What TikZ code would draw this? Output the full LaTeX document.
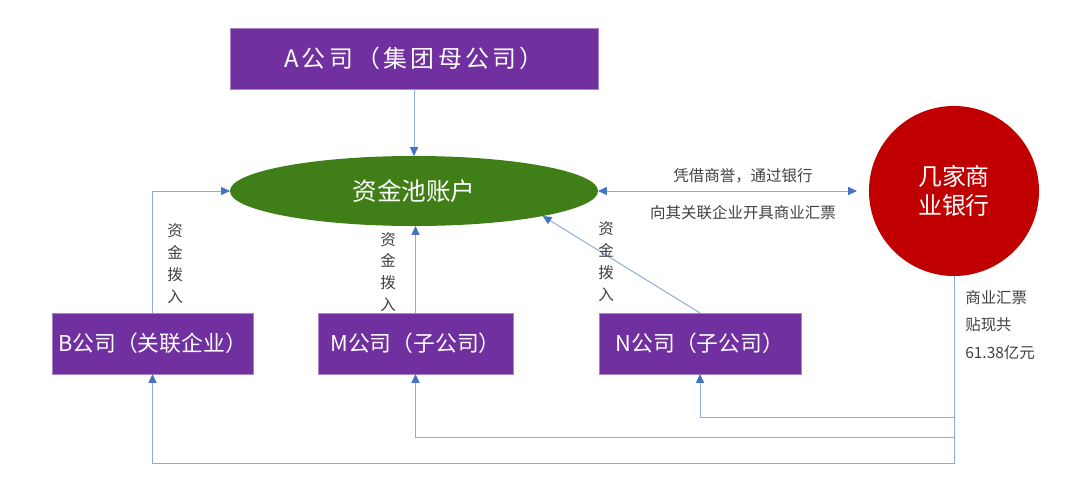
\documentclass[tikz,border=0pt]{standalone}
\usepackage{fontspec}
\setmainfont{Noto Sans CJK SC}
\newfontfamily\wideCJK[LetterSpace=14]{Noto Sans CJK SC}
\usetikzlibrary{arrows.meta,positioning,shapes.geometric}
\definecolor{boxPurple}{RGB}{112,48,160}
\definecolor{poolGreen}{RGB}{64,126,24}
\definecolor{bankRed}{RGB}{192,0,0}
\definecolor{lineBlue}{RGB}{143,170,220}
\definecolor{tipBlue}{RGB}{68,114,196}
\definecolor{labelGray}{RGB}{64,64,64}
\tikzset{blueTip/.tip={Triangle[length=0.22cm,width=0.2cm,color=tipBlue]}}

\begin{document}
\begin{tikzpicture}[x=0.025cm,y=-0.025cm,
	company/.style={fill=boxPurple,draw=boxPurple!60,text=white,minimum height=1.525cm,inner sep=0pt,outer sep=0pt,font=\fontsize{15.5}{18}\selectfont},
	flow/.style={draw=lineBlue,line width=0.7pt,-blueTip},
	note/.style={text=labelGray,inner sep=0pt,font=\fontsize{11}{13}\selectfont},
	vnote/.style={note,align=center,font=\fontsize{11}{15.6}\selectfont}]
	\useasboundingbox (0,0) rectangle (1080,500);

	%Parent company
	\node[company,minimum width=9.2cm,font=\wideCJK\fontsize{17}{20}\selectfont] (groupA) at (414,58.5) {A公司（集团母公司）};
	%Cash pool
	\node[ellipse,fill=poolGreen,text=white,minimum width=9.2cm,minimum height=1.75cm,inner sep=0pt,outer sep=0pt,font=\fontsize{17.5}{20}\selectfont] (pool) at (414,191) {资金池账户};
	%Banks
	\node[circle,fill=bankRed,text=white,minimum size=4.25cm,inner sep=0pt,outer sep=0pt,align=center,font=\fontsize{17}{20.6}\selectfont] (bank) at (954,191) {几家商\\业银行};

	%Member companies
	\node[company,minimum width=5.025cm] (compB) at (152.5,343.5) {B公司（关联企业）};
	\node[company,minimum width=4.875cm] (compM) at (415.5,343.5) {M公司（子公司）};
	\node[company,minimum width=5.05cm] (compN) at (700,343.5) {N公司（子公司）};

	%Funds into the pool
	\draw[flow] (groupA.south) -- (pool.north);
	\draw[flow] (compB.north) |- (pool.west);
	\draw[flow] (compM.north) -- (compM.north |- pool.south);
	\draw[flow] (compN.north -| 700,0) -- (pool.-11);

	\foreach \labelName/\xPos/\yPos in {inB/175/264, inM/388/272, inN/606/262}{
		\node[vnote] (\labelName) at (\xPos,\yPos) {资\\金\\拨\\入};
	}

	%Pool and banks
	\draw[flow,blueTip-blueTip,shorten >=0.3cm] (pool.east) -- (bank.west);
	\node[note] (credit) at (743,176) {凭借商誉，通过银行};
	\node[note] (bills) at (743,213) {向其关联企业开具商业汇票};

	%Discounted bills back to the companies
	\foreach \target/\yLevel in {compN/417, compM/437, compB/463}{
		\coordinate (turn\target) at (954,\yLevel);
		\draw[flow] (bank.south) -- (turn\target) -| (\target.south);
	}
	\node[note,anchor=west,align=left,font=\fontsize{11}{19.5}\selectfont] (discount) at (965,325) {商业汇票\\贴现共\\61.38亿元};
\end{tikzpicture}
\end{document}
